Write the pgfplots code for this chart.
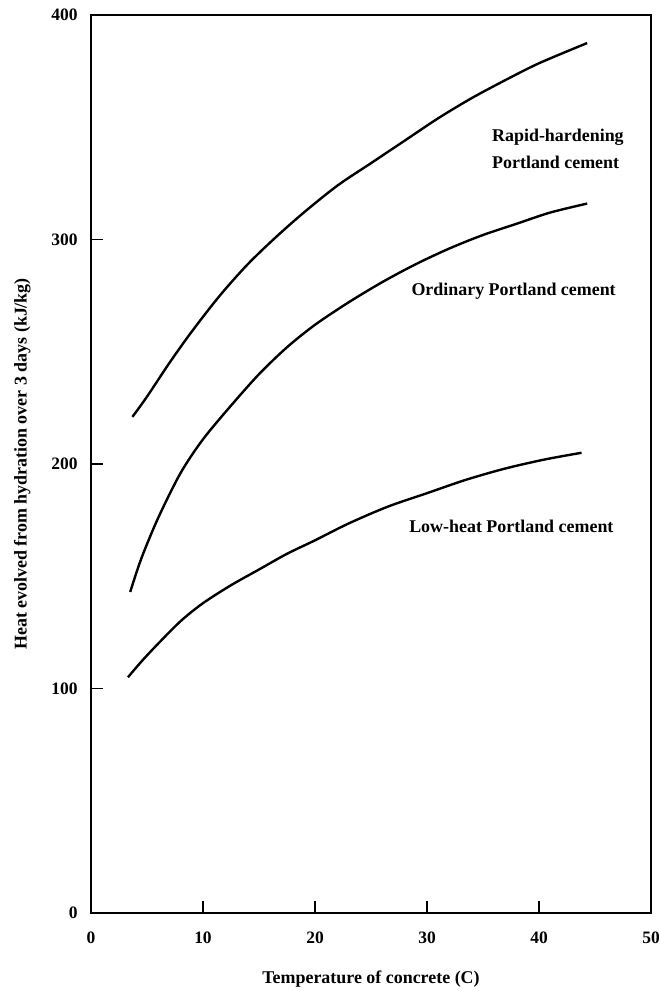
\documentclass[border=0pt]{standalone}
\usepackage{fontspec}
\setmainfont{Liberation Serif}
\usepackage{pgfplots}
\pgfplotsset{compat=1.18}

\pgfplotsset{curve/.style={black, line width=2.4bp, smooth, no marks}}

\begin{document}
\begin{tikzpicture}
\begin{axis}[
    scale only axis, width=560bp, height=898bp,
    xmin=0, xmax=50, ymin=0, ymax=400,
    xtick={0,10,...,50}, ytick={0,100,...,400},
    tick align=inside, xtick pos=bottom, ytick pos=left,
    major tick length=12bp,
    axis line style={line width=1.8bp},
    tick style={line width=1.5bp, black},
    /pgf/number format/assume math mode=true,
    ticklabel style={font=\fontsize{17.5}{20}\selectfont\bfseries},
    xticklabel style={yshift=-15bp},
    yticklabel style={xshift=-10bp},
    xlabel={Temperature of concrete (C)},
    ylabel={Heat evolved from hydration over 3 days (kJ/kg)},
    xlabel style={font=\fontsize{18}{21}\selectfont\bfseries, yshift=-21bp},
    ylabel style={font=\fontsize{18}{21}\selectfont\bfseries, yshift=14bp},
]

% Rapid-hardening Portland cement
\addplot[curve] coordinates {
(3.7,221) (5,230) (7,245) (9,259) (11.5,275) (14,289) (16.5,301) (19,312)
(22,324) (25,334) (28,344) (31,354) (34,363) (37,371) (40,378.5) (44.3,387.5)
};

% Ordinary Portland cement
\addplot[curve] coordinates {
(3.5,143) (4.5,158) (6,176) (8,196) (10,211) (12.5,226) (15,240) (17.5,252)
(20,262) (23,272) (26,281) (29,289) (32,296) (35,302) (38,307) (41,312) (44.3,316)
};

% Low-heat Portland cement
\addplot[curve] coordinates {
(3.3,105) (4.5,112) (6,120) (8,130) (10,138) (12.5,146) (15,153) (17.5,160)
(20,166) (23,173.5) (26.5,181) (30,187) (33.5,193) (37,198) (40.5,202) (43.8,205)
};

\begin{scope}[every node/.style={anchor=west, inner sep=0pt, font=\fontsize{18}{21}\selectfont\bfseries}]
\node at (axis cs:35.8,345.5) {Rapid-hardening};
\node at (axis cs:35.8,334.4) {Portland cement};
\node at (axis cs:28.6,277) {Ordinary Portland cement};
\node at (axis cs:28.4,172) {Low-heat Portland cement};
\end{scope}

\end{axis}
\pgfresetboundingbox
\path[use as bounding box] ([xshift=-91bp,yshift=-77bp]current axis.south west)
    rectangle ([xshift=8bp,yshift=15bp]current axis.north east);
\end{tikzpicture}
\end{document}
